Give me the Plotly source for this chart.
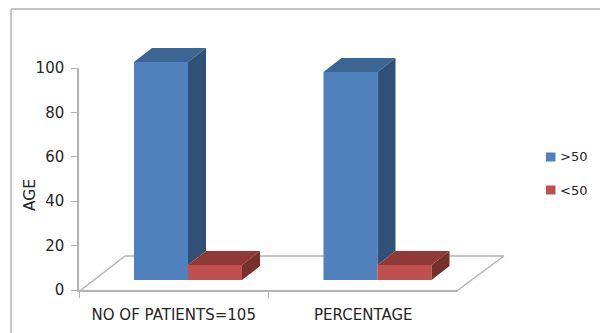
import plotly.graph_objects as go

# Chart values
categories = ["NO OF PATIENTS=105", "PERCENTAGE"]
over_50 = [100, 95.4]
under_50 = [6.9, 6.9]
y_ticks = [0, 20, 40, 60, 80, 100]
legend_labels = [">50", "<50"]

W, H = 600, 333
BAR_W = 0.285          # bar width in category units
DEPTH_X = 0.095        # oblique depth, x direction
DEPTH_Y = 6.4          # oblique depth, y direction

BLUE = ("#4F81BD", "#3C6594", "#305278")
RED = ("#C0504D", "#8F3A38", "#78302E")
GRID = "#B3B3B3"
TEXT = "#262626"
FONT = "DejaVu Sans"

fig = go.Figure()


def solid(xs, ys, color):
    fig.add_trace(go.Scatter(x=xs, y=ys, xaxis="x2", yaxis="y2", mode="lines", fill="toself",
                             fillcolor=color, line=dict(width=0), hoverinfo="skip", showlegend=False))


# Hidden trace that gives the visible category axis its labels
fig.add_trace(go.Scatter(x=categories, y=[0, 0], mode="markers", marker=dict(opacity=0),
                         hoverinfo="skip", showlegend=False))

# Front faces
xpos = list(range(len(categories)))
fig.add_trace(go.Bar(x=xpos, y=over_50, width=BAR_W, offset=-BAR_W, marker=dict(color=BLUE[0], line=dict(width=0)),
                     name=legend_labels[0], xaxis="x2", yaxis="y2", showlegend=False))
fig.add_trace(go.Bar(x=xpos, y=under_50, width=BAR_W, offset=0, marker=dict(color=RED[0], line=dict(width=0)),
                     name=legend_labels[1], xaxis="x2", yaxis="y2", showlegend=False))

# Oblique top and side faces, each derived from the bar value
for x, hi, lo in zip(xpos, over_50, under_50):
    solid([x - BAR_W, x, x + DEPTH_X, x - BAR_W + DEPTH_X, x - BAR_W],
          [hi, hi, hi + DEPTH_Y, hi + DEPTH_Y, hi], BLUE[1])
    solid([x, x + DEPTH_X, x + DEPTH_X, x, x],
          [hi, hi + DEPTH_Y, lo + DEPTH_Y, lo, hi], BLUE[2])
    solid([x, x + BAR_W, x + BAR_W + DEPTH_X, x + DEPTH_X, x],
          [lo, lo, lo + DEPTH_Y, lo + DEPTH_Y, lo], RED[1])
    solid([x + BAR_W, x + BAR_W + DEPTH_X, x + BAR_W + DEPTH_X, x + BAR_W, x + BAR_W],
          [lo, lo + DEPTH_Y, DEPTH_Y, 0, lo], RED[2])


def px_line(x0, y0, x1, y1, width=1.5):
    return dict(type="line", xref="paper", yref="paper", layer="below",
                x0=x0 / W, x1=x1 / W, y0=1 - y0 / H, y1=1 - y1 / H,
                line=dict(color=GRID, width=width))


shapes = [
    # Chart frame, open at the right and bottom
    px_line(11, 9, 600, 9), px_line(11, 9, 11, 333),
    # Oblique floor
    px_line(81, 290, 125, 256), px_line(125, 256, 504, 256), px_line(504, 256, 458, 290),
]
annotations = [dict(text="AGE", xref="paper", yref="paper", x=30 / W, y=1 - 195 / H, textangle=-90,
                    xanchor="center", yanchor="middle", showarrow=False,
                    font=dict(family=FONT, size=15.5, color=TEXT))]
for label, color, cy in zip(legend_labels, (BLUE[0], RED[0]), (157, 190)):
    shapes.append(dict(type="rect", xref="paper", yref="paper", x0=546 / W, x1=555.5 / W,
                       y0=1 - (cy + 4.5) / H, y1=1 - (cy - 4.5) / H, fillcolor=color, line=dict(width=0)))
    annotations.append(dict(text=label, xref="paper", yref="paper", x=558 / W, y=1 - cy / H, xanchor="left",
                            yanchor="middle", showarrow=False, font=dict(family=FONT, size=13, color=TEXT)))

# Front plane: the value axis spans 218 px per 100 units, with headroom for the oblique tops
Y2_MAX = 110
y2_top = 280 - 218 * Y2_MAX / 100

fig.update_layout(
    width=W, height=H, margin=dict(l=0, r=0, t=0, b=0, autoexpand=False),
    paper_bgcolor="white", plot_bgcolor="rgba(0,0,0,0)", showlegend=False,
    shapes=shapes, annotations=annotations, barmode="overlay",
    font=dict(family=FONT, size=13, color=TEXT),
    xaxis=dict(domain=[79 / W, 458 / W], type="category", categoryorder="array", categoryarray=categories,
               range=[-0.5, 1.5], tickson="boundaries", ticks="outside", ticklen=6, tickcolor=GRID,
               showline=True, linecolor=GRID, linewidth=1.5, showgrid=False, zeroline=False, ticklabelstandoff=10,
               tickfont=dict(family=FONT, size=15, color=TEXT), fixedrange=True, automargin=False),
    yaxis=dict(domain=[1 - 290 / H, 1 - 68 / H], range=[0, 100], tickvals=y_ticks, ticks="outside", ticklen=6,
               tickcolor=GRID, showline=True, linecolor=GRID, linewidth=1.5, showgrid=False, zeroline=False,
               ticklabelstandoff=4, tickfont=dict(family=FONT, size=15, color=TEXT), fixedrange=True,
               automargin=False),
    # Separate subplot for the bars: the front plane sits above and to the right of the axis plane
    xaxis2=dict(domain=[93.25 / W, 472.25 / W], range=[-0.5, 1.5], anchor="y2", visible=False, fixedrange=True),
    yaxis2=dict(domain=[1 - 280 / H, 1 - y2_top / H], range=[0, Y2_MAX], anchor="x2", visible=False, fixedrange=True),
)

fig.write_html("out.html", config=dict(displayModeBar=False))
